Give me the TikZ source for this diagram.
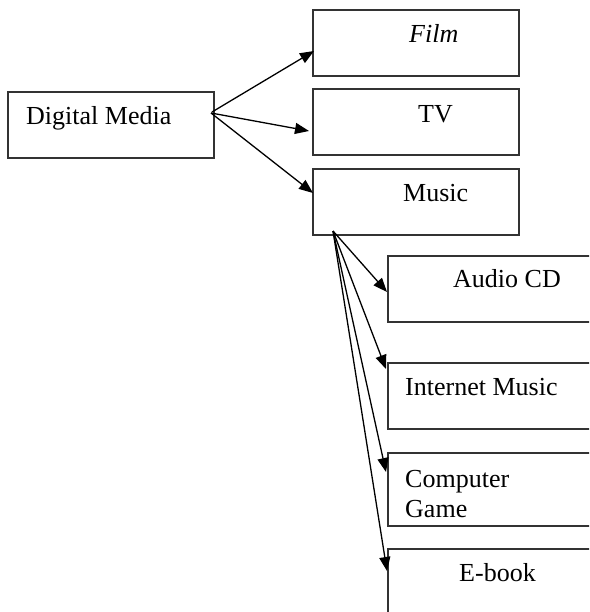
\documentclass[tikz,border=0pt]{standalone}
\usepackage{fontspec}
\setmainfont{Liberation Serif}
\usetikzlibrary{arrows.meta}
\tikzset{
  box/.style={draw=black!80, line width=1.5pt, rectangle, inner sep=0pt, outer sep=0pt,
    minimum width=206pt, minimum height=66pt, anchor=north west},
  wbox/.style={box, minimum width=262pt},
  lbl/.style={inner sep=0pt, anchor=base west, font=\fontsize{26}{30}\selectfont, align=left},
  conn/.style={draw=black, line width=1.3pt, -{Triangle[length=14pt,width=11pt]}}
}
\begin{document}
\begin{tikzpicture}[x=1pt,y=-1pt]
\useasboundingbox (0,0) rectangle (589,612);
\clip (0,0) rectangle (589,612);
\fill[white] (0,0) rectangle (589,612);
% boxes
\node[box] (dm) at (8,92) {};
\node[box] (film) at (313,10) {};
\node[box] (tv) at (313,89) {};
\node[box] (music) at (313,169) {};
\node[wbox] (audio) at (388,256) {};
\node[wbox] (inet) at (388,363) {};
\node[wbox, minimum height=73pt] (game) at (388,453) {};
\node[wbox, minimum height=100pt] (ebook) at (388,549) {};
% labels
\node[lbl] (tdm) at (26,125) {Digital Media};
\node[lbl] (tfilm) at (409,43) {\itshape Film};
\node[lbl] (ttv) at (418,123) {TV};
\node[lbl] (tmusic) at (403,202) {Music};
\node[lbl] (taudio) at (453,287) {Audio CD};
\node[lbl] (tinet) at (405,395) {Internet Music};
\node[lbl] (tgame1) at (405,487) {Computer};
\node[lbl] (tgame2) at (405,517) {Game};
\node[lbl] (tebook) at (459,581) {E-book};
% connectors
\draw[conn] ([shift={(-2,-13)}]dm.east) -- ([shift={(1,8)}]film.west);
\draw[conn] ([shift={(-3,-12)}]dm.east) -- ([shift={(-4,9)}]tv.west);
\draw[conn] ([shift={(-3,-12)}]dm.east) -- ([shift={(0,-9)}]music.west);
\draw[conn] ([shift={(20,-4)}]music.south west) -- ([shift={(-1,36)}]audio.north west);
\draw[conn] ([shift={(20,-4)}]music.south west) -- ([shift={(-2,6)}]inet.north west);
\draw[conn] ([shift={(20,-4)}]music.south west) -- ([shift={(-2,19)}]game.north west);
\draw[conn] ([shift={(20,-4)}]music.south west) -- ([shift={(-1,22)}]ebook.north west);
\end{tikzpicture}
\end{document}
